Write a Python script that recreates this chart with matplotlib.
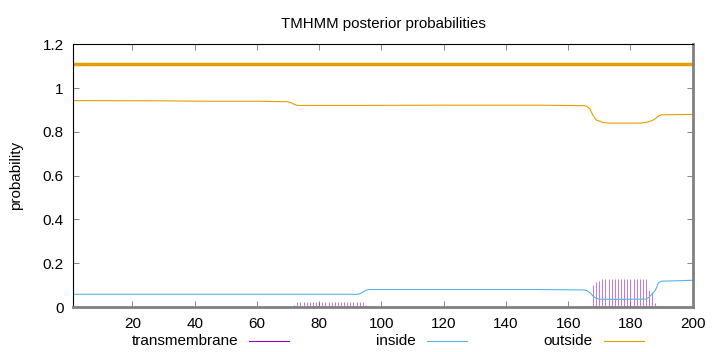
import matplotlib
matplotlib.use("Agg")
import matplotlib.pyplot as plt
from matplotlib.lines import Line2D

plt.rcParams['font.family'] = ['Liberation Sans', 'DejaVu Sans']

# posterior probabilities (position, value)
outside_pos = [1, 30, 45, 60, 70, 71, 72, 73, 95, 120, 150, 165, 166, 167, 168, 169, 171, 173, 183, 185, 187, 188, 189, 190, 200]
outside_val = [0.943, 0.942, 0.940, 0.940, 0.938, 0.933, 0.926, 0.921, 0.921, 0.922, 0.922, 0.920, 0.916, 0.905, 0.875, 0.855, 0.844, 0.840, 0.840, 0.843, 0.852, 0.860, 0.872, 0.878, 0.880]

inside_pos = [1, 30, 60, 92, 93, 94, 95, 96, 120, 150, 165, 166, 167, 168, 169, 170, 175, 185, 186, 187, 188, 189, 190, 200]
inside_val = [0.058, 0.058, 0.058, 0.058, 0.060, 0.068, 0.076, 0.080, 0.080, 0.080, 0.078, 0.075, 0.065, 0.050, 0.040, 0.036, 0.035, 0.036, 0.045, 0.060, 0.075, 0.110, 0.118, 0.122]

tm_pos = list(range(25, 71, 2)) + list(range(72, 96)) + list(range(156, 168)) + list(range(168, 189)) + list(range(189, 196))
tm_val = ([0.003] * 23
          + [0.008] + [0.024] * 22 + [0.008]
          + [0.003] * 12
          + [0.100, 0.113, 0.120] + [0.128] * 15 + [0.078, 0.067, 0.020]
          + [0.004] * 7)

topology_level = 1.11

legend_names = ['transmembrane', 'inside', 'outside']
legend_colors = ['#9400d3', '#56b4e9', '#e69f00']

W, H = 720, 352
fig = plt.figure(figsize=(7.2, 3.52), dpi=100)
ax = fig.add_axes([0.1018, 0.1278, 0.8602, 0.7462])

ax.vlines(tm_pos, 0, tm_val, color='#a838dc', linewidth=0.6, alpha=0.8)
ax.plot(inside_pos, inside_val, color='#56b4e9', linewidth=0.8)
ax.plot(outside_pos, outside_val, color='#e69f00', linewidth=0.8)
ax.plot([1, 200], [topology_level, topology_level], color='#e69f00', linewidth=2.5)

ax.set_xlim(1, 200)
ax.set_ylim(0, 1.2)
ax.set_xticks(range(20, 201, 20))
ax.set_yticks([0, 0.2, 0.4, 0.6, 0.8, 1.0, 1.2])
ax.set_yticklabels(['0', '0.2', '0.4', '0.6', '0.8', '1', '1.2'])
ax.tick_params(direction='in', top=True, right=True, labelsize=11, length=4, width=0.5, color='#555555', pad=7)
for s in ['left', 'top']:
    ax.spines[s].set_linewidth(0.8)
for s in ['bottom', 'right']:
    ax.spines[s].set_linewidth(2)
    ax.spines[s].set_color('#808080')

ax.set_title('TMHMM posterior probabilities', fontsize=10.8, pad=12)
ax.set_ylabel('probability', fontsize=11, labelpad=14)

# gnuplot style key under the plot: text right aligned, then sample line
key_text_end = [238, 416, 593]
key_y = 341
for name, col, xe in zip(legend_names, legend_colors, key_text_end):
    fig.text(xe / W, 1 - key_y / H, name, ha='right', va='center', fontsize=11)
    fig.add_artist(Line2D([(xe + 11) / W, (xe + 51) / W], [1 - key_y / H] * 2,
                          color=col, linewidth=0.8, transform=fig.transFigure))

fig.savefig('out.png', dpi=100)
